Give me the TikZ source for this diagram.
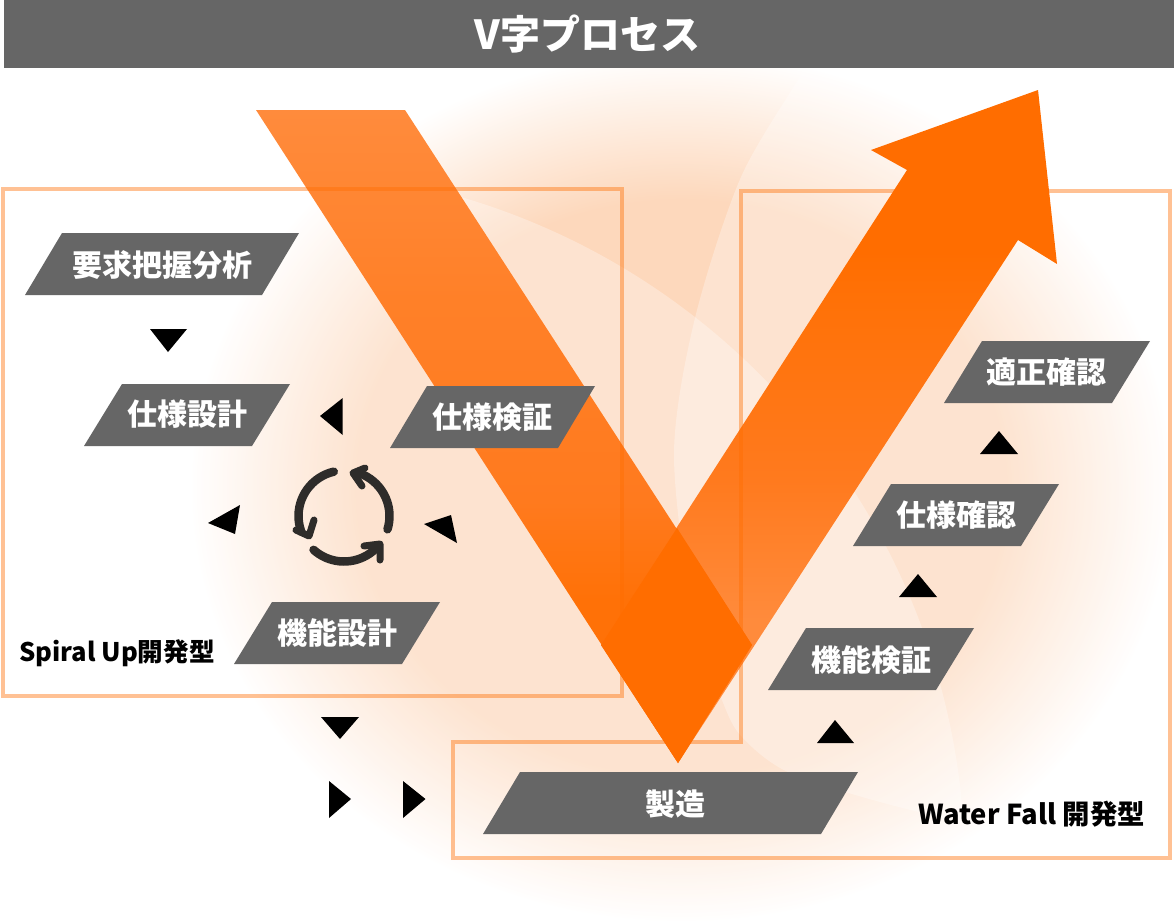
\documentclass[tikz,border=0pt]{standalone}
\usepackage{fontspec}
\setmainfont{Noto Sans CJK JP}
\usetikzlibrary{calc}
\definecolor{hdr}{HTML}{666666}
\definecolor{org}{HTML}{FF6D00}
\definecolor{peach}{HTML}{FDD8BC}
\definecolor{barA}{HTML}{FF8B3C}
\definecolor{barB}{HTML}{FF8028}
\definecolor{barC}{HTML}{FF7A1E}
\definecolor{barD}{HTML}{FF7107}
\definecolor{iconc}{HTML}{2E2C2A}
\pgfdeclareradialshading{glowshade}{\pgfpointorigin}{color(0bp)=(peach); color(16.5bp)=(peach); color(25bp)=(white); color(50bp)=(white)}
\pgfdeclareverticalshading{barshade}{100bp}{color(0bp)=(barD); color(25bp)=(barD); color(37.5bp)=(barD); color(45bp)=(barC); color(60.5bp)=(barB); color(75bp)=(barA); color(100bp)=(barA)}
\pgfdeclareverticalshading{arrowshade}{100bp}{color(0bp)=(barA); color(35.5bp)=(barA); color(46bp)=(barC); color(59.5bp)=(barD); color(63bp)=(org); color(100bp)=(org)}
\tikzset{
  para/.style={fill=hdr},
  lab/.style={text=white,font=\fontsize{30}{32}\selectfont\bfseries,inner sep=0pt,anchor=center},
  blab/.style={text=black,inner sep=0pt},
  tri/.style={fill=black},
  framep/.style={draw=org,draw opacity=0.42,line width=4pt,miter limit=10},
  lens/.style={fill=white,fill opacity=0.3},
  cyc/.style={draw=iconc,line width=8.5pt,line cap=round,line join=round}
}
\begin{document}
\begin{tikzpicture}[x=1pt,y=-1pt]
\useasboundingbox (0,0) rectangle (1174,922);
\fill[white] (0,0) rectangle (1174,922);
% glow
\path[shading=glowshade] (190,52) rectangle (1172,922);
% lenses
\begin{scope}
\clip (0,68) rectangle (1174,922);
\fill[lens] (264,870) circle[radius=701];
\fill[lens] plot[smooth] coordinates {(830,20) (804,70) (741,177) (695,318) (674,453) (692,610) (722,700) (742,737) (790,773) (899,807) (1050,840) (1300,860)} -- (1300,20) -- cycle;
\end{scope}
% V
\path[shading=arrowshade] (601,645) -- (907,170) -- (871,150) -- (1038,90) -- (1057,264) -- (1018,240) -- (678,763) -- cycle;
\path[shading=barshade] (256,110) -- (405,110) -- (752,645) -- (678,763) -- cycle;
\fill[org] (677,528) -- (752,645) -- (678,763) -- (601,645) -- cycle;
% frames
\draw[framep] (3,189) rectangle (622,696);
\draw[framep] (741,190.5) -- (1170,190.5) -- (1170,858) -- (453,858) -- (453,741.5) -- (741,741.5) -- cycle;
% header
\fill[hdr] (4,0) rectangle (1174,68);
\node[text=white,font=\fontsize{40}{42}\selectfont\bfseries,inner sep=0pt] (title) at (587.5,34) {V字プロセス};
% parallelograms
\fill[para] (62,233) -- (299,233) -- (262,295) -- (25,295) -- cycle;
\node[lab] (n1) at (162,265) {要求把握分析};
\fill[para] (122,384) -- (290,384) -- (252,446) -- (84,446) -- cycle;
\node[lab] (n2) at (187,414) {仕様設計};
\fill[para] (427,386) -- (595,386) -- (558,448) -- (390,448) -- cycle;
\node[lab] (n3) at (492,417) {仕様検証};
\fill[para] (272,602) -- (440,602) -- (402,664) -- (234,664) -- cycle;
\node[lab] (n4) at (337,633) {機能設計};
\fill[para] (806,628) -- (974,628) -- (936,690) -- (768,690) -- cycle;
\node[lab] (n5) at (871,660) {機能検証};
\fill[para] (891,484) -- (1059,484) -- (1021,546) -- (853,546) -- cycle;
\node[lab] (n6) at (956,515) {仕様確認};
\fill[para] (982,341) -- (1150,341) -- (1112,403) -- (944,403) -- cycle;
\node[lab] (n7) at (1046,372) {適正確認};
\fill[para] (520,772) -- (858,772) -- (821,834) -- (483,834) -- cycle;
\node[lab] (n8) at (675,804) {製造};
% labels
\node[blab,anchor=west,font=\fontsize{25.6}{28}\selectfont\bfseries] (s1) at (19,653) {Spiral Up開発型};
\node[blab,anchor=east,font=\fontsize{27.4}{30}\selectfont\bfseries] (s2) at (1145,814) {Water Fall 開発型};
% triangles
\fill[tri] (150,329) -- (187,329) -- (168,352) -- cycle;
\fill[tri] (320,416) -- (342.7,398) -- (342.7,435) -- cycle;
\fill[tri] (208,523) -- (240,505) -- (235,534) -- cycle;
\fill[tri] (424,524) -- (451,515) -- (457,543) -- cycle;
\fill[tri] (321,717) -- (359,717) -- (340,739) -- cycle;
\fill[tri] (329,781) -- (329,818) -- (351,799) -- cycle;
\fill[tri] (403,781) -- (403,818) -- (425.5,799) -- cycle;
\fill[tri] (817,743) -- (854,743) -- (835,720) -- cycle;
\fill[tri] (899,597) -- (937,597) -- (918,574) -- cycle;
\fill[tri] (980,454) -- (1018,454) -- (999,431) -- cycle;
% cycle icon
\draw[cyc] plot[domain=17:-68,samples=20] ({344+45.5*cos(\x)},{516+45.5*sin(\x)});
\draw[cyc] plot[domain=-103:-200,samples=20] ({344+45.5*cos(\x)},{516+45.5*sin(\x)});
\draw[cyc] plot[domain=132:46,samples=20] ({344+45.5*cos(\x)},{516+45.5*sin(\x)});
\draw[cyc,line width=7pt] (362,486) -- (353,473) -- (365,468);
\draw[cyc,line width=7pt] (314,520) -- (309,536) -- (296,530);
\draw[cyc,line width=7pt] (364,546) -- (380,544) -- (380,560);
\end{tikzpicture}
\end{document}
